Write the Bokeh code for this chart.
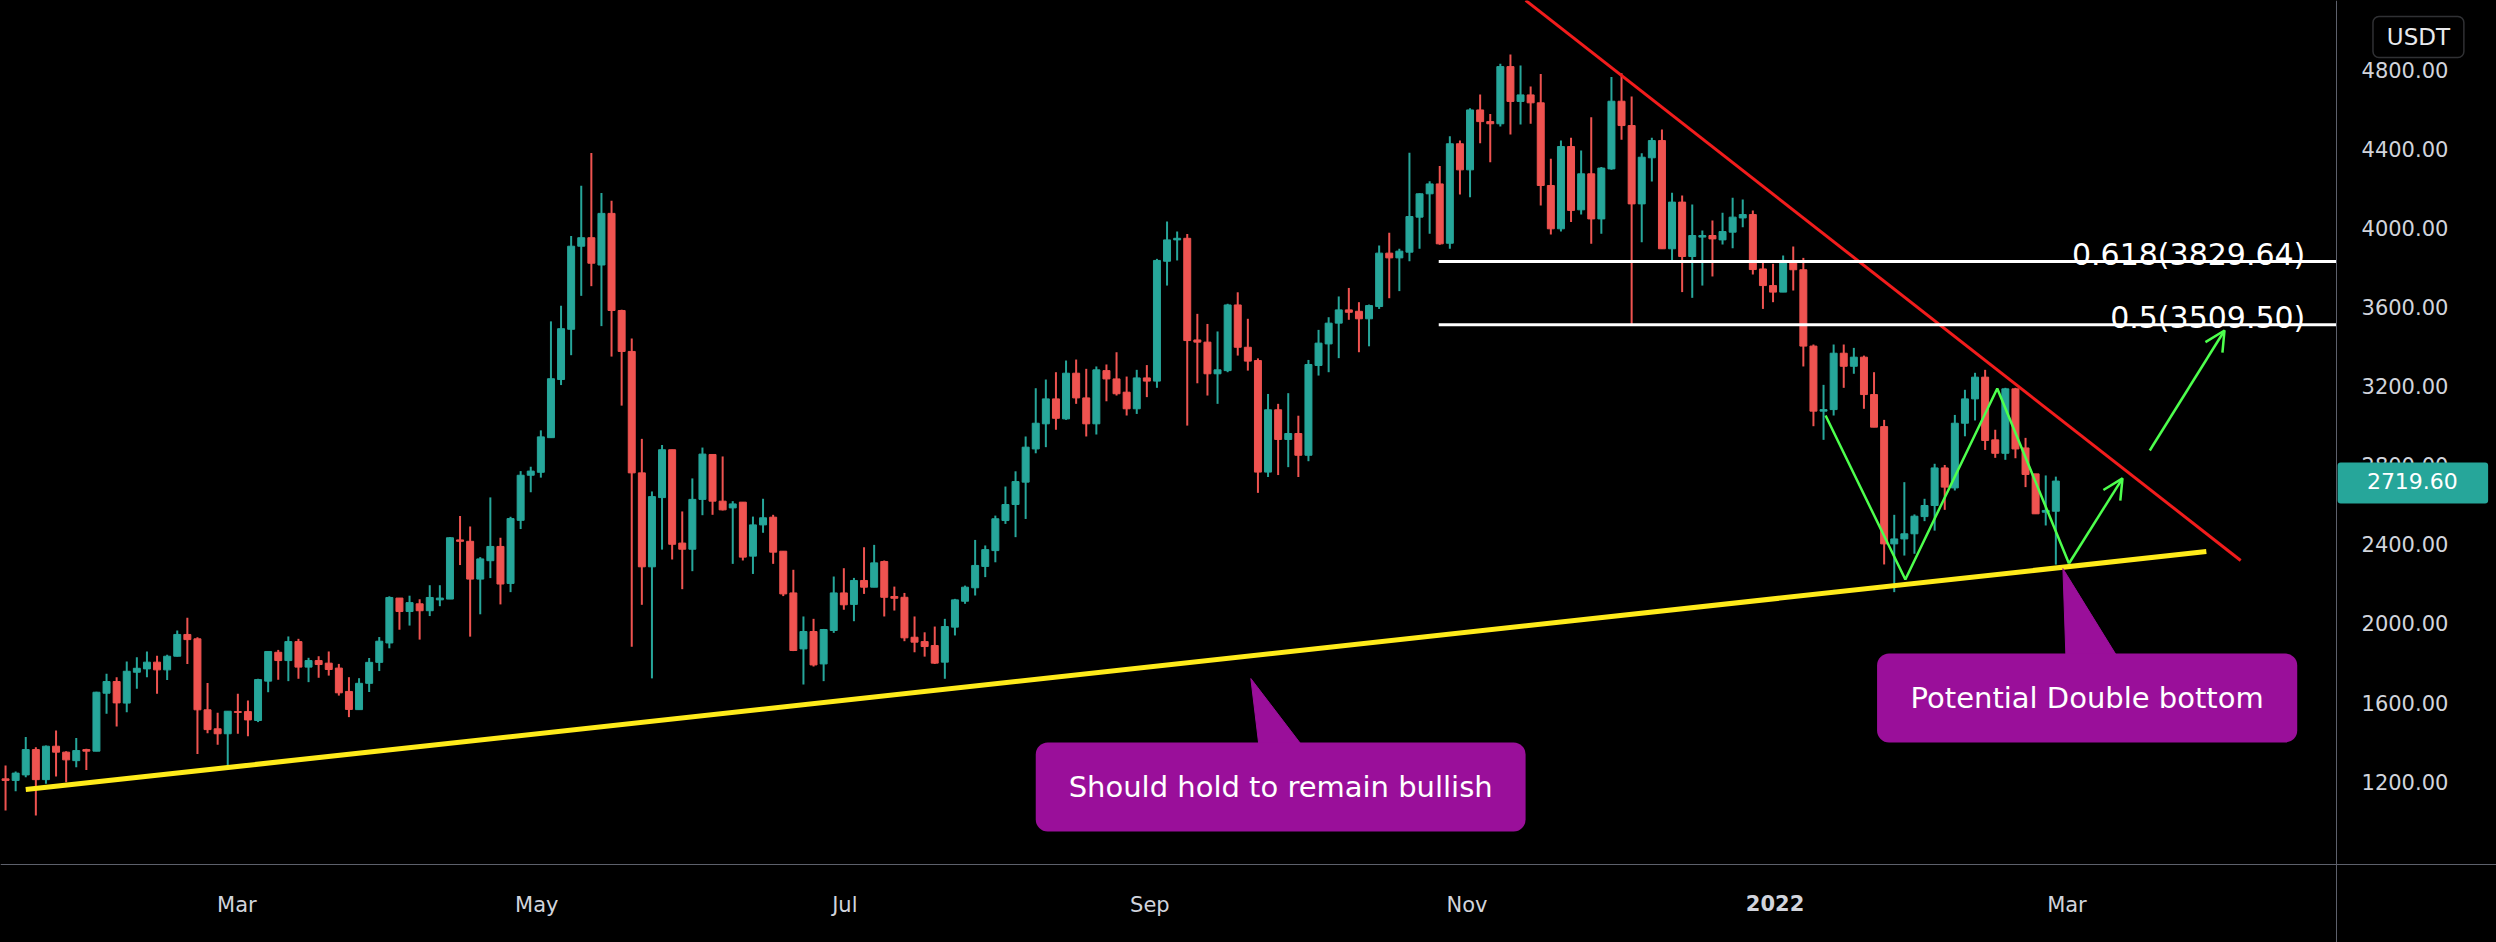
from bokeh.plotting import figure
from bokeh.models import (FixedTicker, PrintfTickFormatter, Label, BoxAnnotation,
                          Arrow, OpenHead, ColumnDataSource)
from bokeh.embed import file_html
from bokeh.resources import INLINE

# ETH/USDT, 2-day candles (x = bar index)
opens = [1214,1206,1234,1362,1210,1379,1349,1306,1362,1354,1647,1706,1597,1753,1770,1804,1765,1834,1944,1922,
         1563,1467,1442,1554,1554,1509,1708,1854,1812,1908,1779,1812,1799,1774,1656,1564,1697,1803,1901,2128,
         2060,2099,2064,2119,2123,2422,2415,2224,2317,2389,2202,2521,2749,2764,2939,3233,3487,3907,3950,3812,
         4073,3582,3375,2761,2286,2636,2878,2406,2375,2627,2854,2618,2584,2613,2340,2498,2537,2365,2154,1871,
         1959,1795,1964,2154,2096,2217,2183,2313,2136,2132,1930,1908,1888,1804,1981,2112,2180,2288,2368,2520,
         2601,2714,2882,3009,3135,3034,3265,3140,3009,3278,3236,3169,3085,3241,3225,3831,3939,3947,3433,3422,
         3262,3278,3610,3396,3329,2765,3080,2930,2960,2850,3304,3413,3518,3585,3578,3540,3602,3872,3848,3877,
         4054,4172,4222,3922,4425,4293,4596,4537,4526,4815,4639,4672,4632,4214,3995,4411,4091,4273,4045,4298,
         4640,4517,4121,4354,4441,3894,4130,3855,3953,3961,3939,3978,4050,4067,3792,3708,3675,3830,3788,3402,
         3073,3081,3366,3300,3346,3157,2995,2402,2427,2453,2540,2596,2786,2685,3012,3135,3245,2928,2860,3186,
         2887,2756,2562,2567]
highs = [1281,1251,1425,1374,1382,1458,1354,1421,1366,1655,1745,1728,1807,1829,1858,1837,1841,1964,2028,1930,
         1699,1548,1556,1644,1610,1720,1858,1866,1934,1922,1826,1834,1858,1795,1728,1723,1825,1931,2137,2128,
         2140,2122,2193,2193,2436,2543,2490,2335,2637,2433,2539,2770,2792,2976,3527,3606,3959,4213,4378,4176,
         4137,3586,3441,2933,2667,2902,2878,2566,2733,2889,2854,2844,2618,2613,2540,2630,2549,2365,2271,2035,
         2023,1972,2237,2279,2230,2385,2397,2318,2186,2154,2035,1955,1984,2023,2124,2191,2422,2394,2545,2692,
         2769,2945,3189,3233,3270,3329,3334,3287,3299,3309,3371,3248,3282,3306,3843,4032,3981,3969,3565,3514,
         3476,3616,3674,3540,3340,3160,3110,3164,3050,3332,3484,3548,3653,3696,3624,3612,3911,3975,3894,4379,
         4175,4236,4312,4463,4441,4605,4674,4576,4829,4876,4821,4714,4778,4349,4441,4455,4391,4559,4307,4762,
         4782,4664,4377,4455,4497,4177,4163,4118,3986,4037,4076,4152,4143,4088,3830,3818,3860,3905,3848,3410,
         3206,3410,3410,3393,3354,3270,3029,2549,2714,2551,2630,2807,2801,3054,3181,3267,3282,2979,3191,3191,
         2938,2756,2748,2742]
lows = [1054,1151,1222,1029,1189,1226,1197,1273,1259,1354,1543,1479,1551,1669,1728,1644,1714,1832,1795,1340,
        1445,1386,1278,1442,1430,1501,1652,1715,1708,1720,1703,1725,1736,1635,1526,1564,1653,1759,1874,1968,
        1989,1918,2037,2087,2123,2295,1933,2046,2229,2096,2158,2477,2663,2737,2939,3205,3356,3656,3705,3503,
        3349,3101,1882,2094,1722,2373,2323,2173,2264,2547,2549,2571,2301,2318,2250,2458,2301,2138,1860,1691,
        1782,1708,1952,2069,2011,2149,2183,2035,2065,1910,1854,1832,1795,1720,1939,2099,2141,2234,2309,2503,
        2436,2528,2860,2891,2979,3029,3110,2945,2955,3123,3152,3051,3059,3144,3191,3708,3835,3000,3214,3152,
        3110,3270,3354,3278,2660,2740,2750,2790,2740,2820,3253,3270,3341,3535,3371,3401,3590,3644,3680,3831,
        3894,3970,3914,3894,4168,4155,4428,4332,4512,4472,4522,4526,4113,3966,3981,4029,4067,3919,3970,4293,
        4445,3511,3927,4234,3894,3835,3675,3646,3708,3754,3916,3897,4003,3764,3590,3624,3675,3683,3299,2997,
        2928,3051,3191,3262,3085,2992,2298,2158,2343,2352,2517,2469,2574,2672,2946,3026,2877,2837,2827,2835,
        2689,2554,2495,2297]
closes = [1206,1243,1362,1210,1379,1349,1310,1357,1354,1652,1706,1598,1758,1773,1804,1765,1834,1944,1918,1563,
          1463,1442,1556,1550,1512,1716,1858,1812,1908,1779,1812,1792,1767,1649,1565,1697,1803,1910,2131,2060,
          2105,2064,2131,2128,2433,2415,2224,2326,2389,2199,2530,2749,2770,2943,3237,3490,3907,3950,3821,4073,
          3582,3375,2761,2286,2641,2878,2400,2375,2627,2856,2618,2574,2604,2335,2498,2534,2360,2149,1863,1959,
          1790,1969,2154,2094,2217,2183,2306,2132,2127,1927,1905,1883,1799,1984,2119,2183,2293,2373,2529,2601,
          2717,2891,3012,3135,3037,3265,3140,3009,3282,3236,3161,3085,3241,3225,3835,3939,3947,3430,3422,3262,
          3282,3610,3396,3326,2765,3080,2930,2960,2850,3309,3417,3518,3585,3573,3540,3607,3872,3848,3882,4057,
          4172,4222,3919,4425,4293,4596,4537,4526,4815,4639,4672,4632,4214,3995,4411,4088,4273,4045,4302,4640,
          4517,4121,4357,4441,3894,4130,3855,3961,3961,3944,3981,4054,4067,3789,3708,3675,3835,3788,3402,3073,
          3081,3366,3300,3346,3157,2992,2402,2427,2453,2542,2596,2786,2689,3012,3135,3245,2925,2860,3186,2882,
          2753,2554,2571,2719.60]

# axis ticks
month_ticks = [22.9, 52.6, 83.1, 113.3, 144.7, 175.2, 204.1]
month_labels = ["Mar", "May", "Jul", "Sep", "Nov", "2022", "Mar"]
price_ticks = [1200, 1600, 2000, 2400, 2800, 3200, 3600, 4000, 4400, 4800]

# pane edges (bar index / price where the price and time scales sit)
price_scale_x = 230.79
time_scale_y = 780.9

# drawings (bar index, price)
support_x = [2.0, 217.9]
support_y = [1160, 2363]
resist_x = [150.5, 221.3]
resist_y = [5150, 2318]
fib_levels = [3829.64, 3509.50]
fib_texts = ["0.618(3829.64)", "0.5(3509.50)"]
fib_x = [141.9, price_scale_x]
w_x = [180.2, 188.1, 197.2, 204.3]
w_y = [3051, 2222, 3188, 2303]
arrow1 = [204.3, 2303, 209.6, 2733]
arrow2 = [212.3, 2874, 219.7, 3481]
callout_texts = ["Should hold to remain bullish", "Potential Double bottom"]
callout_boxes = [[102.0, 150.5, 1397.7, 947.7], [185.3, 226.9, 1847.7, 1397.7]]
callout_tips = [[123.3, 1721, 124.1, 128.4, 1380], [203.7, 2277, 204.0, 209.1, 1830]]
last_price = 2719.60

UP = "#26a69a"
DOWN = "#ef5350"
FONT = "DejaVu Sans"
AXIS_TXT = "#d1d4dc"
BORDER = "#5d606b"

n = len(closes)
idx = list(range(n))
colors = [UP if c >= o else DOWN for o, c in zip(opens, closes)]
src = ColumnDataSource(dict(
    x=idx, o=opens, h=highs, l=lows, c=closes,
    top=[max(o, c) for o, c in zip(opens, closes)],
    bot=[min(o, c) for o, c in zip(opens, closes)],
    col=colors))

p = figure(width=2496, height=942, x_range=(-0.5, 246.63), y_range=(386.6, 5149.3),
           y_axis_location="right", output_backend="svg", toolbar_location=None,
           background_fill_color="black", border_fill_color="black",
           min_border=0, outline_line_color=None)
p.outline_line_color = None
p.grid.visible = False

p.segment(x0="x", y0="h", x1="x", y1="l", source=src, line_color="col", line_width=2)
p.vbar(x="x", top="top", bottom="bot", width=0.69, source=src,
       fill_color="col", line_color="col", line_width=1)

# drawings
p.line(support_x, support_y, line_color="#ffeb1a", line_width=5)
p.line(resist_x, resist_y, line_color="#f21c1c", line_width=3)
for lvl, txt in zip(fib_levels, fib_texts):
    p.line(fib_x, [lvl, lvl], line_color="white", line_width=3)
    p.add_layout(Label(x=227.7, y=lvl + 37, text=txt, text_align="right",
                       text_baseline="alphabetic", text_color="white",
                       text_font=FONT, text_font_size="30px"))

GREEN = "#4dff4d"
p.line(w_x, w_y, line_color=GREEN, line_width=2.5)
for a in (arrow1, arrow2):
    p.add_layout(Arrow(x_start=a[0], y_start=a[1], x_end=a[2], y_end=a[3],
                       line_color=GREEN, line_width=2.5,
                       end=OpenHead(size=20, line_color=GREEN, line_width=2.5)))

PURPLE = "#9a0f9a"
for txt, box, tip in zip(callout_texts, callout_boxes, callout_tips):
    p.patch([tip[0], tip[2], tip[3]], [tip[1], tip[4], tip[4]],
            fill_color=PURPLE, line_color=PURPLE)
    p.add_layout(BoxAnnotation(left=box[0], right=box[1], top=box[2], bottom=box[3],
                               fill_color=PURPLE, fill_alpha=1, line_color=None,
                               border_radius=12))
    p.add_layout(Label(x=(box[0] + box[1]) / 2, y=(box[2] + box[3]) / 2, text=txt,
                       text_align="center", text_baseline="middle", text_color="white",
                       text_font=FONT, text_font_size="29px"))

# axes (pinned at the pane edges)
xa = p.xaxis[0]
xa.fixed_location = time_scale_y
xa.ticker = FixedTicker(ticks=month_ticks)
overrides = {t: lab for t, lab in zip(month_ticks, month_labels)}
overrides[month_ticks[5]] = ""
xa.major_label_overrides = overrides
xa.major_label_text_font = FONT
xa.major_label_text_font_size = "21px"
xa.major_label_text_color = AXIS_TXT
xa.major_label_standoff = 28
xa.major_tick_out = 0
xa.major_tick_in = 0
xa.axis_line_color = BORDER
xa.major_tick_line_color = None
xa.minor_tick_line_color = None

ya = p.yaxis[0]
ya.fixed_location = price_scale_x
ya.ticker = FixedTicker(ticks=price_ticks)
ya.formatter = PrintfTickFormatter(format="%.2f")
ya.major_label_text_font = FONT
ya.major_label_text_font_size = "21px"
ya.major_label_text_color = AXIS_TXT
ya.major_label_standoff = 25
ya.major_tick_out = 0
ya.major_tick_in = 0
ya.axis_line_color = BORDER
ya.major_tick_line_color = None
ya.minor_tick_line_color = None

p.add_layout(Label(x=month_ticks[5], y=626, text=month_labels[5], text_align="center",
                   text_baseline="top", text_color=AXIS_TXT, text_font=FONT,
                   text_font_size="21px", text_font_style="bold"))

# last price tag and currency box
p.add_layout(BoxAnnotation(left=230.9, right=245.8, top=2813, bottom=2606,
                           fill_color=UP, fill_alpha=1, line_color=None, border_radius=3))
p.add_layout(Label(x=238.3, y=last_price, text="%.2f" % last_price, text_align="center",
                   text_baseline="middle", text_color="white", text_font=FONT,
                   text_font_size="22px"))
p.add_layout(BoxAnnotation(left=234.4, right=243.4, top=5068, bottom=4861,
                           fill_color="black", fill_alpha=1, line_color="#a0a3ab",
                           line_width=1.5, border_radius=6))
p.add_layout(Label(x=238.9, y=4964, text="USDT", text_align="center",
                   text_baseline="middle", text_color="#e8e9ec", text_font=FONT,
                   text_font_size="23px"))

html = file_html(p, INLINE)
html = html.replace("<head>", "<head><style>html,body{margin:0;padding:0;background:#000;}</style>", 1)
open("out.html", "w").write(html)
